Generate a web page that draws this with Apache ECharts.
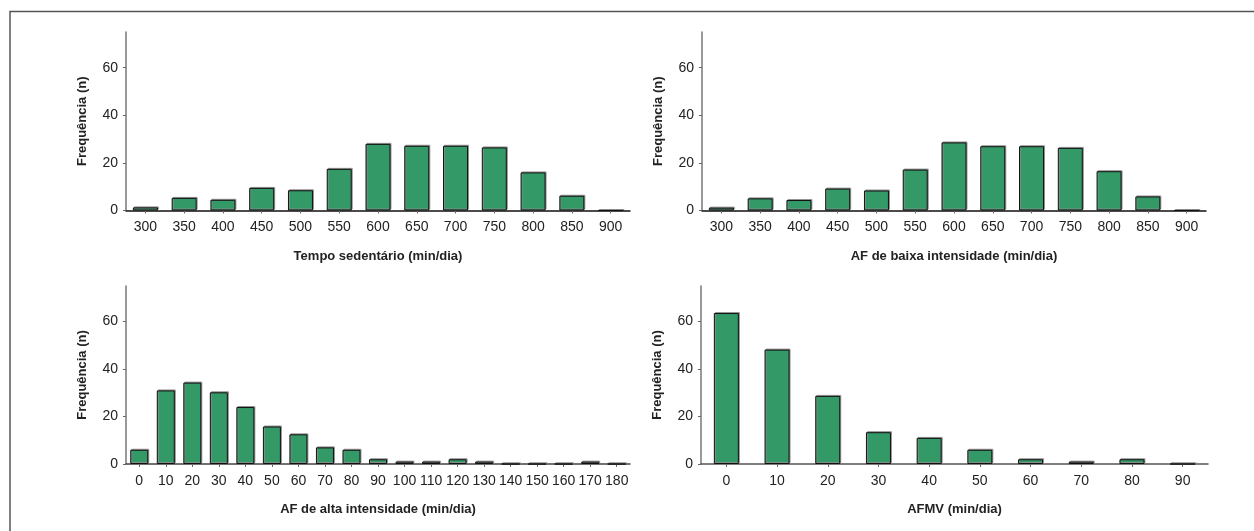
<!DOCTYPE html>
<html>
<head>
<meta charset="utf-8">
<script src="https://cdn.jsdelivr.net/npm/echarts@6/dist/echarts.min.js"></script>
<style>
html,body{margin:0;padding:0;background:#fff;}
#c{width:1254px;height:531px;}
</style>
</head>
<body>
<div id="c"></div>
<script>
// ---- data ----
const catsSedentario = ['300','350','400','450','500','550','600','650','700','750','800','850','900'];
const valsSedentario = [1.3, 5.3, 4.5, 9.5, 8.5, 17.5, 28, 27.2, 27.2, 26.5, 16, 6.2, 0];

const catsBaixa = ['300','350','400','450','500','550','600','650','700','750','800','850','900'];
const valsBaixa = [1.2, 5.1, 4.4, 9.2, 8.4, 17.2, 28.6, 27, 27, 26.3, 16.5, 5.9, 0];

const catsAlta = ['0','10','20','30','40','50','60','70','80','90','100','110','120','130','140','150','160','170','180'];
const valsAlta = [6, 31, 34.3, 30.2, 24, 15.8, 12.5, 7, 6, 2, 1, 1, 2, 1, 0, 0, 0, 1, 0];

const catsAFMV = ['0','10','20','30','40','50','60','70','80','90'];
const valsAFMV = [63.6, 48.2, 28.7, 13.4, 11, 6, 2, 1, 2, 0];

const yTickValues = [0, 20, 40, 60];
const yMax = 75;

const titlesX = ['Tempo sedentário (min/dia)', 'AF de baixa intensidade (min/dia)', 'AF de alta intensidade (min/dia)', 'AFMV (min/dia)'];
const titleY = 'Frequência (n)';

// ---- layout ----
const FONT = "'Liberation Sans',Arial,sans-serif";
const panels = [
  {cats: catsSedentario, vals: valsSedentario, grid: {left: 126, top: 32, width: 504, height: 178.5}, barW: 25, axisColor: '#111'},
  {cats: catsBaixa, vals: valsBaixa, grid: {left: 702, top: 32, width: 504, height: 178.5}, barW: 25, axisColor: '#111'},
  {cats: catsAlta, vals: valsAlta, grid: {left: 126, top: 286, width: 504, height: 178}, barW: 18, axisColor: '#444'},
  {cats: catsAFMV, vals: valsAFMV, grid: {left: 701, top: 286, width: 507, height: 178}, barW: 25, axisColor: '#555'}
];

const chart = echarts.init(document.getElementById('c'), null, {renderer: 'canvas'});

const option = {
  animation: false,
  backgroundColor: '#fff',
  textStyle: {fontFamily: FONT},
  grid: panels.map(p => Object.assign({containLabel: false}, p.grid)),
  xAxis: panels.map((p, i) => ({
    type: 'category',
    gridIndex: i,
    data: p.cats,
    boundaryGap: true,
    name: titlesX[i],
    nameLocation: 'middle',
    nameGap: 39,
    nameTextStyle: {fontFamily: FONT, fontWeight: 'bold', fontSize: 13, color: '#222'},
    axisLine: {show: true, lineStyle: {color: p.axisColor, width: 1.5}},
    axisTick: {show: true, alignWithLabel: true, length: 3, inside: false, lineStyle: {color: '#666'}},
    axisLabel: {fontFamily: FONT, fontSize: 14, color: '#222', margin: 10, interval: 0},
    splitLine: {show: false}
  })),
  yAxis: panels.map((p, i) => ({
    type: 'value',
    gridIndex: i,
    min: 0,
    max: yMax,
    interval: 20,
    name: titleY,
    nameLocation: 'middle',
    nameGap: 37,
    nameRotate: 90,
    nameTextStyle: {fontFamily: FONT, fontWeight: 'bold', fontSize: 13, color: '#222'},
    axisLine: {show: true, lineStyle: {color: '#777', width: 1.5}},
    axisTick: {show: true, length: 3, customValues: yTickValues, lineStyle: {color: '#666'}},
    axisLabel: {fontFamily: FONT, fontSize: 14, color: '#222', margin: 8, customValues: yTickValues},
    splitLine: {show: false}
  })),
  series: panels.map((p, i) => ({
    type: 'bar',
    xAxisIndex: i,
    yAxisIndex: i,
    data: p.vals,
    barWidth: p.barW,
    itemStyle: {
      color: '#339966',
      borderColor: '#111',
      borderWidth: 1,
      shadowColor: 'rgba(140,140,140,0.9)',
      shadowBlur: 0,
      shadowOffsetX: 1,
      shadowOffsetY: -1
    }
  })),
  graphic: [{
    type: 'rect',
    shape: {x: 10, y: 11.5, width: 1300, height: 600},
    style: {fill: 'none', stroke: '#555', lineWidth: 1.5},
    silent: true
  }]
};
chart.setOption(option);
</script>
</body>
</html>
